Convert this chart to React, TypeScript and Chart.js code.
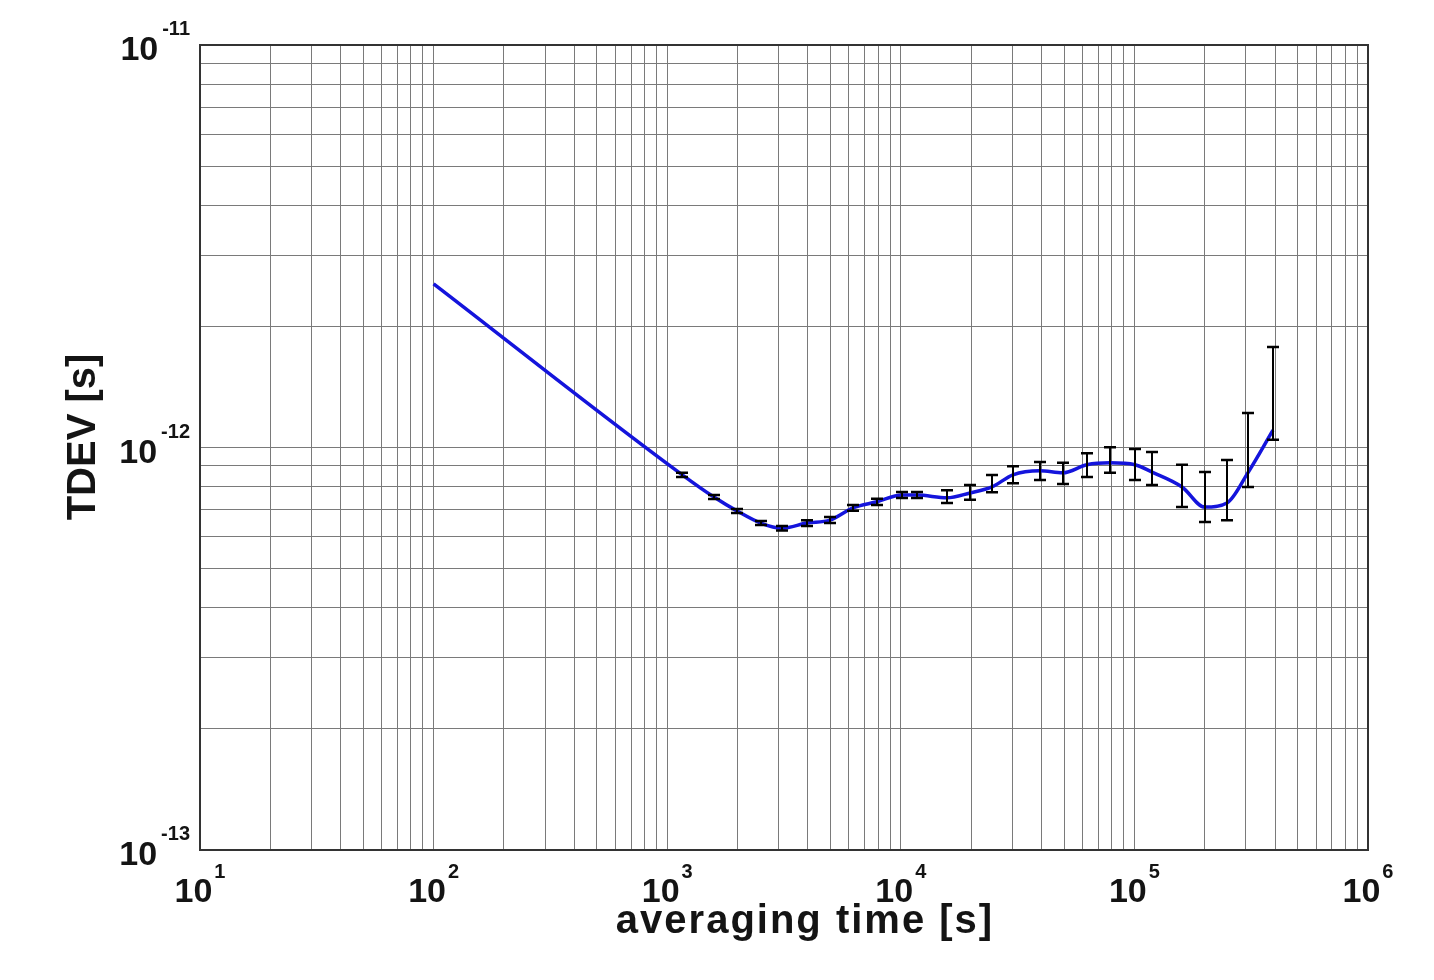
import React, { useEffect, useRef } from 'react';
import { Chart, registerables } from 'chart.js';

Chart.register(...registerables);

// averaging time tau [s]
const tau = [
  100, 1160, 1585, 1995, 2512, 3100, 3963, 4974, 6240, 7900, 10100, 11750, 15770, 19780, 24560, 30200,
  39400, 49400, 62600, 78600, 100600, 119000, 160000, 200000, 249000, 306000, 392000,
];
// TDEV [s]
const tdev = [
  2.55e-12, 8.55e-13, 7.53e-13, 6.95e-13, 6.49e-13, 6.3e-13, 6.49e-13, 6.6e-13, 7.08e-13, 7.33e-13, 7.62e-13,
  7.62e-13, 7.5e-13, 7.71e-13, 7.98e-13, 8.55e-13, 8.75e-13, 8.65e-13, 9.06e-13, 9.16e-13, 9.06e-13, 8.69e-13,
  7.98e-13, 7.11e-13, 7.28e-13, 8.65e-13, 1.104e-12,
];
// error bar bounds
const errLow = [
  null, 8.45e-13, 7.45e-13, 6.87e-13, 6.42e-13, 6.22e-13, 6.38e-13, 6.49e-13, 6.96e-13, 7.2e-13, 7.49e-13,
  7.49e-13, 7.28e-13, 7.42e-13, 7.74e-13, 8.15e-13, 8.3e-13, 8.12e-13, 8.45e-13, 8.65e-13, 8.3e-13, 8.07e-13,
  7.11e-13, 6.53e-13, 6.6e-13, 7.98e-13, 1.045e-12,
];
const errHigh = [
  null, 8.65e-13, 7.62e-13, 7.03e-13, 6.57e-13, 6.38e-13, 6.6e-13, 6.72e-13, 7.2e-13, 7.46e-13, 7.75e-13,
  7.75e-13, 7.83e-13, 8.07e-13, 8.55e-13, 8.98e-13, 9.21e-13, 9.16e-13, 9.68e-13, 1.002e-12, 9.91e-13, 9.75e-13,
  9.06e-13, 8.69e-13, 9.31e-13, 1.219e-12, 1.778e-12,
];

const xDecades = [1e1, 1e2, 1e3, 1e4, 1e5, 1e6];
const xExponents = ['1', '2', '3', '4', '5', '6'];
const yDecades = [1e-13, 1e-12, 1e-11];
const yExponents = ['-13', '-12', '-11'];
const mantissas = [1, 2, 3, 4, 5, 6, 7, 8, 9];
const xTitle = 'averaging time [s]';
const yTitle = 'TDEV [s]';

const FONT = '"Liberation Sans", Arial, sans-serif';
const TEXT = '#141414';

function gridTicks(decades: number[]) {
  const out: { value: number }[] = [];
  for (let i = 0; i < decades.length; i++) {
    const d = decades[i];
    if (i === decades.length - 1) {
      out.push({ value: d });
      break;
    }
    mantissas.forEach((m) => out.push({ value: m * d }));
  }
  return out;
}

const decorPlugin = {
  id: 'decor',
  beforeDatasetsDraw(chart: any) {
    const { ctx, chartArea } = chart;
    ctx.save();
    ctx.strokeStyle = '#333';
    ctx.lineWidth = 2;
    ctx.strokeRect(chartArea.left, chartArea.top, chartArea.right - chartArea.left, chartArea.bottom - chartArea.top);
    ctx.restore();
  },
  afterDatasetsDraw(chart: any) {
    const { ctx } = chart;
    const xs = chart.scales.x;
    const ys = chart.scales.y;
    ctx.save();
    // error bars
    ctx.strokeStyle = '#000';
    ctx.lineWidth = 2;
    for (let i = 0; i < tau.length; i++) {
      const lo = errLow[i];
      const hi = errHigh[i];
      if (lo == null || hi == null) continue;
      const px = Math.round(xs.getPixelForValue(tau[i]));
      const yl = ys.getPixelForValue(lo);
      const yh = ys.getPixelForValue(hi);
      ctx.beginPath();
      ctx.moveTo(px, yl);
      ctx.lineTo(px, yh);
      ctx.stroke();
      ctx.beginPath();
      ctx.lineWidth = 2.5;
      ctx.moveTo(px - 6, yl);
      ctx.lineTo(px + 6, yl);
      ctx.moveTo(px - 6, yh);
      ctx.lineTo(px + 6, yh);
      ctx.stroke();
      ctx.lineWidth = 2;
    }
    ctx.restore();
  },
  afterDraw(chart: any) {
    const { ctx, chartArea } = chart;
    const xs = chart.scales.x;
    const ys = chart.scales.y;
    ctx.save();
    ctx.fillStyle = TEXT;
    ctx.textAlign = 'left';
    ctx.textBaseline = 'alphabetic';
    const baseFont = `bold 34px ${FONT}`;
    const expFont = `bold 20px ${FONT}`;
    // x tick labels
    xDecades.forEach((v, i) => {
      const px = xs.getPixelForValue(v);
      ctx.font = baseFont;
      const wb = ctx.measureText('10').width;
      ctx.font = expFont;
      const we = ctx.measureText(xExponents[i]).width;
      const left = px - (wb + we + 2) / 2;
      ctx.font = baseFont;
      ctx.fillText('10', left, chartArea.bottom + 52);
      ctx.font = expFont;
      ctx.fillText(xExponents[i], left + wb + 2, chartArea.bottom + 28);
    });
    // y tick labels
    yDecades.forEach((v, i) => {
      const py = ys.getPixelForValue(v);
      ctx.font = baseFont;
      const wb = ctx.measureText('10').width;
      ctx.font = expFont;
      const we = ctx.measureText(yExponents[i]).width;
      const right = chartArea.left - 10;
      const left = right - we - 4 - wb;
      ctx.font = baseFont;
      ctx.fillText('10', left, py + 15);
      ctx.font = expFont;
      ctx.fillText(yExponents[i], left + wb + 4, py - 10);
    });
    // axis titles
    ctx.font = `bold 40px ${FONT}`;
    ctx.textAlign = 'center';
    try {
      (ctx as any).letterSpacing = '2px';
    } catch (e) {}
    ctx.fillText(xTitle, 805, 933);
    try {
      (ctx as any).letterSpacing = '0px';
    } catch (e) {}
    ctx.translate(95, 437);
    ctx.rotate(-Math.PI / 2);
    ctx.fillText(yTitle, 0, 0);
    ctx.restore();
  },
};

export default function App() {
  const ref = useRef<HTMLCanvasElement | null>(null);
  useEffect(() => {
    if (!ref.current) return;
    const chart = new Chart(ref.current, {
      type: 'line',
      data: {
        datasets: [
          {
            data: tau.map((t, i) => ({ x: t, y: tdev[i] })),
            borderColor: '#1414dc',
            borderWidth: 3.5,
            pointRadius: 0,
            fill: false,
            cubicInterpolationMode: 'monotone',
          },
        ],
      },
      options: {
        responsive: false,
        maintainAspectRatio: false,
        devicePixelRatio: 1,
        animation: false,
        layout: { padding: { left: 200, top: 45, right: 66, bottom: 130 } },
        plugins: { legend: { display: false }, tooltip: { enabled: false } },
        scales: {
          x: {
            type: 'logarithmic',
            min: 10,
            max: 1e6,
            afterBuildTicks: (s: any) => {
              s.ticks = gridTicks(xDecades);
            },
            afterFit: (s: any) => {
              s.height = 0;
            },
            ticks: { display: false, autoSkip: false },
            grid: { color: '#7a7a7a', lineWidth: 1, drawTicks: false },
            border: { display: false },
          },
          y: {
            type: 'logarithmic',
            min: 1e-13,
            max: 1e-11,
            afterBuildTicks: (s: any) => {
              s.ticks = gridTicks(yDecades);
            },
            afterFit: (s: any) => {
              s.width = 0;
            },
            ticks: { display: false, autoSkip: false },
            grid: { color: '#7a7a7a', lineWidth: 1, drawTicks: false },
            border: { display: false },
          },
        },
      } as any,
      plugins: [decorPlugin],
    });
    return () => chart.destroy();
  }, []);
  return (
    <div style={{ position: 'absolute', left: 0, top: 0, width: 1434, height: 980, background: '#fff' }}>
      <canvas ref={ref} width={1434} height={980} style={{ display: 'block', width: 1434, height: 980 }} />
    </div>
  );
}
